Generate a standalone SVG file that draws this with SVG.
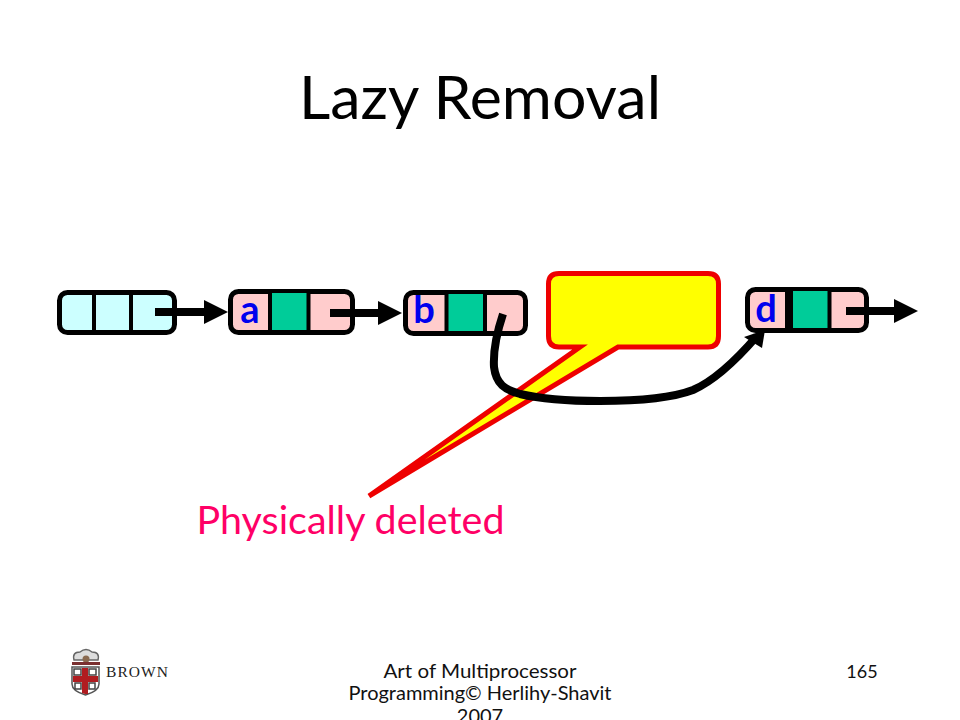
<svg xmlns="http://www.w3.org/2000/svg" width="960" height="720" viewBox="0 0 960 720">
<style>
text{font-family:"Lato","Noto Sans",sans-serif}
.box{stroke:#000;stroke-width:5;}
.div{stroke:#000;stroke-width:4;fill:none}
.cyan{fill:#CCFFFF}.pink{fill:#FFCCCC}.green{fill:#00CC99}
.letter{font-size:38px;font-weight:700;fill:#0000EE;text-anchor:middle}
.shaft{stroke:#000;stroke-width:8;fill:none}
.foot{font-size:20px;fill:#111;text-anchor:middle}
</style>
<defs><marker id="h" markerUnits="userSpaceOnUse" markerWidth="24" markerHeight="24" refX="0" refY="12" orient="auto"><path d="M0 0L24 12L0 24Z" fill="#000"/></marker></defs>
<rect width="960" height="720" fill="#fff"/>
<text id="title" x="480" y="119" font-size="60" text-anchor="middle" textLength="362" lengthAdjust="spacingAndGlyphs" fill="#000">Lazy Removal</text>
<g id="node-head">
<rect class="box cyan" x="59.5" y="292.5" width="115" height="40" rx="8"/>
<path class="div" d="M94 292V332M131 292V332"/>
</g>
<g id="node-a">
<rect class="box pink" x="230.5" y="291.5" width="122" height="41" rx="8"/>
<rect class="green" x="272" y="293" width="36" height="37"/>
<path class="div" d="M270 292V332M308.500 292V332"/>
<text class="letter" x="250" y="323">a</text>
</g>
<g id="node-b">
<rect class="box pink" x="405.500" y="292.500" width="120" height="41" rx="8"/>
<rect class="green" x="448" y="294" width="36" height="37"/>
<path class="div" d="M446.500 293V333M485 293V333"/>
<text class="letter" x="424" y="323">b</text>
</g>
<g id="callout">
<path d="M559 273.500H708Q718.500 273.500 718.500 284V336Q718.500 347 708 347H618L369 496L580 347H559Q548.500 347 548.500 336V284Q548.500 273.500 559 273.500Z" fill="#FFFF00" stroke="#EE0000" stroke-width="5" stroke-linejoin="miter"/>
</g>
<g id="node-d">
<rect class="box pink" x="747.500" y="289.500" width="119" height="41" rx="8"/>
<rect class="green" x="793" y="291" width="35" height="37"/>
<path d="M789 289V331" stroke="#000" stroke-width="8"/>
<path class="div" d="M829.500 289V331"/>
<text class="letter" x="766" y="322">d</text>
</g>
<g id="connectors">
<path class="shaft" d="M155 312H204" marker-end="url(#h)"/>
<path class="shaft" d="M330 313H378" marker-end="url(#h)"/>
<path class="shaft" d="M846 311H894" marker-end="url(#h)"/>
<path d="M503 314C496 335 493 350 494 367C496 384 505 390 520 394C545 400 575 401 600 401C640 401 672 398 693 390C716 380 738 358 757 336" fill="none" stroke="#000" stroke-width="8"/>
<path d="M765 330L744 337L762 348Z" fill="#000"/>
</g>
<text id="label" x="350.500" y="534" font-size="38" text-anchor="middle" textLength="308" lengthAdjust="spacingAndGlyphs" fill="#FF0066">Physically deleted</text>
<g id="brown-logo">
<path d="M74 660Q72 652 80 652Q86 647 92 652Q100 652 98 660Z" fill="#ddd" stroke="#666" stroke-width="1.500"/>
<circle cx="86" cy="659" r="3.500" fill="#8a6a50"/>
<rect x="72" y="662" width="28" height="3" fill="#7a3030"/>
<path d="M72 667H99V684Q99 691 85.500 695Q72 691 72 684Z" fill="#fff" stroke="#555" stroke-width="1.500"/>
<path d="M82 668H88V694H85L82 693ZM73 676H98V682H73Z" fill="#B01C20"/>
<path d="M74 669h7v6h-7zM89 669h7v6h-7zM75 683h6v6h-6zM89 683h6v6h-6z" fill="#fff" stroke="#444" stroke-width="1.500"/>
<text x="106" y="677" font-size="15.500" textLength="62" style="font-family:'Liberation Serif',serif" fill="#222">BROWN</text>
</g>
<g id="footer">
<text class="foot" x="480" y="678" textLength="193" lengthAdjust="spacingAndGlyphs">Art of Multiprocessor</text>
<text class="foot" x="480" y="700" textLength="263" lengthAdjust="spacingAndGlyphs">Programming© Herlihy-Shavit</text>
<text class="foot" x="480" y="723">2007</text>
<text class="foot" x="862" y="678" style="font-size:18px">165</text>
</g>
</svg>
